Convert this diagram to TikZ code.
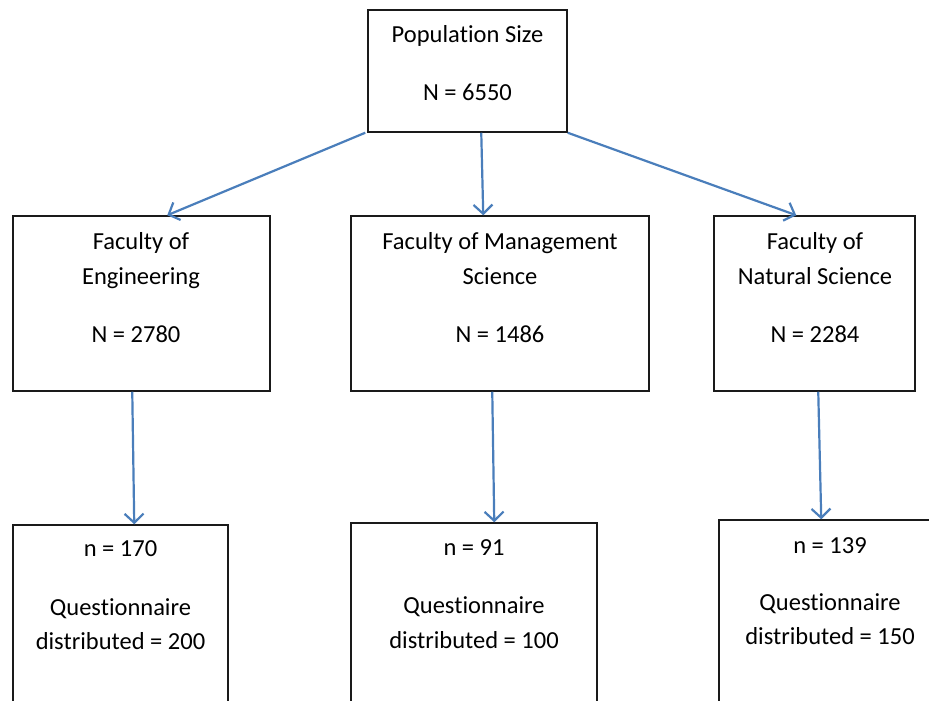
\documentclass[tikz,border=0pt]{standalone}
\usepackage{fontspec}
\setmainfont{Carlito}[Ligatures={NoCommon},RawFeature={-liga;-clig;-dlig}]
\usetikzlibrary{arrows.meta}
\definecolor{arrowblue}{HTML}{4A7EBB}
\definecolor{boxline}{HTML}{1A1A1A}
\tikzset{
  box/.style={draw=boxline, line width=1.5pt, rectangle, inner sep=0pt},
  lbl/.style={anchor=base, inner sep=0pt, font=\fontsize{24.5}{30}\selectfont, text=black},
  conn/.style={draw=arrowblue, line width=2.2pt, -{Straight Barb[length=9pt,width=19pt]}}
}
\begin{document}
\begin{tikzpicture}[x=1pt,y=-1pt]
\useasboundingbox (0,0) rectangle (929,701);
\clip (0,0) rectangle (929,701);
% boxes
\node[box, minimum width=199pt, minimum height=122pt] (top) at (467.5,71) {};
\node[box, minimum width=257pt, minimum height=175pt] (eng) at (141.5,303.5) {};
\node[box, minimum width=298pt, minimum height=175pt] (mgt) at (500,303.5) {};
\node[box, minimum width=201pt, minimum height=175pt] (nat) at (814.5,303.5) {};
\node[box, minimum width=215pt, minimum height=235pt] (beng) at (120.5,642.5) {};
\node[box, minimum width=246pt, minimum height=237pt] (bmgt) at (474,641.5) {};
\node[box, minimum width=271pt, minimum height=240pt] (bnat) at (854.5,640) {};
% texts
\node[lbl] (t1) at (467.5,43) {Popula\kern0pt tion Size};
\node[lbl] (t2) at (467.5,100) {N = 6550};
\node[lbl] (e1) at (141,249) {Faculty of};
\node[lbl] (e2) at (141,284) {Engineering};
\node[lbl] (e3) at (136,342) {N = 2780};
\node[lbl] (m1) at (500,249) {Faculty of Management};
\node[lbl] (m2) at (500,284) {Science};
\node[lbl] (m3) at (500,342) {N = 1486};
\node[lbl] (n1) at (815,249) {Faculty of};
\node[lbl] (n2) at (815,284) {Natural Science};
\node[lbl] (n3) at (815,342) {N = 2284};
\node[lbl] (be1) at (120.5,556) {n = 170};
\node[lbl] (be2) at (120.5,615) {Questionnaire};
\node[lbl] (be3) at (120.5,649) {distributed = 200};
\node[lbl] (bm1) at (474,555) {n = 91};
\node[lbl] (bm2) at (474,613) {Questionnaire};
\node[lbl] (bm3) at (474,648) {distributed = 100};
\node[lbl] (bn1) at (830,553) {n = 139};
\node[lbl] (bn2) at (830,610) {Questionnaire};
\node[lbl] (bn3) at (830,644) {distributed = 150};
% connectors
\draw[conn] ([xshift=-2pt]top.south west) -- ([xshift=155pt]eng.north west);
\draw[conn] ([xshift=114pt]top.south west) -- ([xshift=133pt]mgt.north west);
\draw[conn] (top.south east) -- ([xshift=83pt]nat.north west);
\draw[conn] ([xshift=120pt]eng.south west) -- ([xshift=122pt]beng.north west);
\draw[conn] ([xshift=142pt]mgt.south west) -- ([xshift=144pt]bmgt.north west);
\draw[conn] ([xshift=105pt]nat.south west) -- ([xshift=103pt]bnat.north west);
\end{tikzpicture}
\end{document}
